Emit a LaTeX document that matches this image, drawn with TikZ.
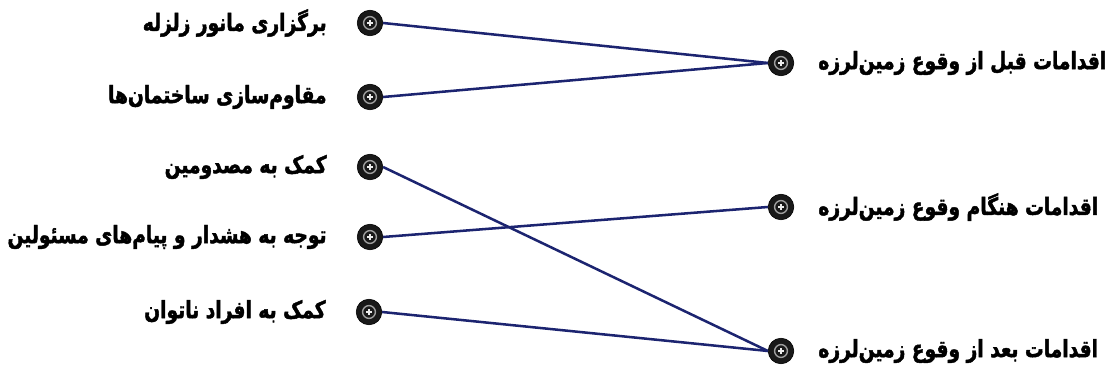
\documentclass[tikz,border=0pt]{standalone}
\usepackage{fontspec}
\newfontfamily\fafont[Script=Arabic,FakeStretch=0.78,FakeBold=1.8]{DejaVu Sans}
\TeXXeTstate=1
\usetikzlibrary{positioning}
\definecolor{garis}{RGB}{28,36,112}
\tikzset{
  titik/.style={circle,fill=black!90,draw=black,minimum size=0.64cm,inner sep=0pt,
    path picture={
      \draw[gray!75,line width=1pt] (path picture bounding box.center) circle (0.16cm);
      \draw[white!85!gray,line width=0.9pt] ([xshift=-0.07cm]path picture bounding box.center) -- ([xshift=0.07cm]path picture bounding box.center)
        ([yshift=-0.07cm]path picture bounding box.center) -- ([yshift=0.07cm]path picture bounding box.center);
    }},
  teks/.style={inner sep=0pt,font=\fafont\bfseries\fontsize{17}{20}\selectfont},
  hubung/.style={draw=garis,line width=1.8pt}
}
\begin{document}
\begin{tikzpicture}[x=0.025cm,y=-0.025cm]
  \useasboundingbox (0,0) rectangle (1108,372);

  % titik-titik kiri
  \node[titik] (L1) at (370,23) {};
  \node[titik] (L2) at (370,97) {};
  \node[titik] (L3) at (370,167) {};
  \node[titik] (L4) at (370,237) {};
  \node[titik] (L5) at (369,312) {};

  % titik-titik kanan
  \node[titik] (R1) at (781,63) {};
  \node[titik] (R2) at (781,207) {};
  \node[titik] (R3) at (781,351) {};

  % label kiri
  \node[teks,left=0.75cm of L1] (t1) {\beginR برگزاری مانور زلزله\endR};
  \node[teks,left=0.75cm of L2] (t2) {\beginR مقاوم‌سازی ساختمان‌ها\endR};
  \node[teks,left=0.75cm of L3] (t3) {\beginR کمک به مصدومین\endR};
  \node[teks,left=0.75cm of L4] (t4) {\beginR توجه به هشدار و پیام‌های مسئولین\endR};
  \node[teks,left=0.75cm of L5] (t5) {\beginR کمک به افراد ناتوان\endR};

  % label kanan
  \node[teks,right=0.6cm of R1] (s1) {\beginR اقدامات قبل از وقوع زمین‌لرزه\endR};
  \node[teks,right=0.6cm of R2] (s2) {\beginR اقدامات هنگام وقوع زمین‌لرزه\endR};
  \node[teks,right=0.6cm of R3] (s3) {\beginR اقدامات بعد از وقوع زمین‌لرزه\endR};

  % garis penghubung
  \draw[hubung] (L1.east) -- (R1.west);
  \draw[hubung] (L2.east) -- (R1.west);
  \draw[hubung] (L3.east) -- (R3.west);
  \draw[hubung] (L4.east) -- (R2.west);
  \draw[hubung] (L5.east) -- (R3.west);
\end{tikzpicture}
\end{document}
